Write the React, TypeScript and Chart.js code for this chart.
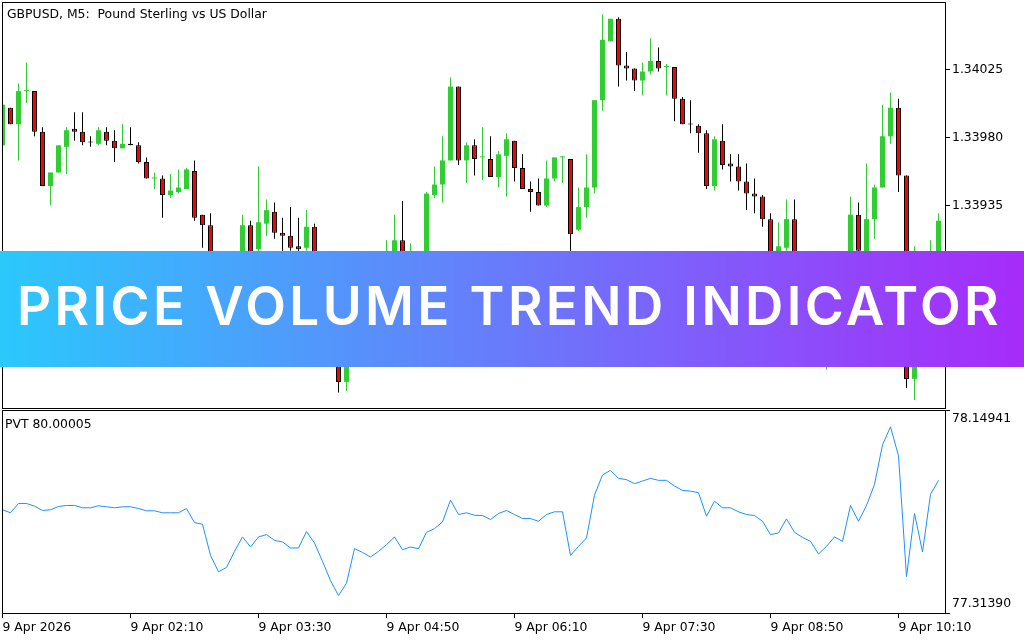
import React, { useEffect, useLayoutEffect, useRef, useState } from 'react';
import { Chart, registerables } from 'chart.js';

Chart.register(...registerables);

// ---------------- data ----------------
const symbolTitle = 'GBPUSD, M5:  Pound Sterling vs US Dollar';
const indicatorTitle = 'PVT 80.00005';
const bannerText = 'PRICE VOLUME TREND INDICATOR';

const timeTickIndex = [0, 16, 32, 48, 64, 80, 96, 112];
const timeTickLabels = ['9 Apr 2026', '9 Apr 02:10', '9 Apr 03:30', '9 Apr 04:50', '9 Apr 06:10', '9 Apr 07:30', '9 Apr 08:50', '9 Apr 10:10'];

const priceTicks = [1.33845, 1.3389, 1.33935, 1.3398, 1.34025];
const priceMin = 1.3380067;
const priceMax = 1.3407013;
const pvtMin = 77.3139;
const pvtMax = 78.14941;

const openP = [
  1.33975, 1.34, 1.33989, 1.34011, 1.34011, 1.33984, 1.33948, 1.33957, 1.33974, 1.33986,
  1.33984, 1.33977, 1.33976, 1.33984, 1.33978, 1.33973, 1.33976, 1.33975, 1.33964, 1.33953,
  1.33953, 1.33942, 1.33944, 1.33946, 1.33958, 1.33929, 1.33922, 1.33882, 1.3386, 1.33872,
  1.33892, 1.33922, 1.33906, 1.33923, 1.33931, 1.33917, 1.33915, 1.33908, 1.33907, 1.33921,
  1.33889, 1.33859, 1.33836, 1.33818, 1.33832, 1.33872, 1.33866, 1.33858, 1.33876, 1.33898,
  1.33912, 1.33896, 1.33902, 1.33898, 1.33942, 1.33949, 1.33965, 1.34014, 1.33965, 1.33975,
  1.33967, 1.33966, 1.33954, 1.33968, 1.33978, 1.3396, 1.33946, 1.33944, 1.33935, 1.33953,
  1.33967, 1.33966, 1.33919, 1.33934, 1.33947, 1.34005, 1.34044, 1.34059, 1.34028, 1.34026,
  1.34018, 1.34024, 1.34031, 1.34027, 1.34027, 1.34006, 1.33989, 1.33988, 1.33983, 1.33948,
  1.33978, 1.33963, 1.33961, 1.33951, 1.33943, 1.33941, 1.33926, 1.33898, 1.33907, 1.33926,
  1.33889, 1.33872, 1.33859, 1.33836, 1.33849, 1.33872, 1.33862, 1.33929, 1.33902, 1.33926,
  1.33947, 1.33981, 1.34, 1.33955, 1.3382, 1.33879, 1.33852, 1.33889,
];
const highP = [
  1.34005, 1.34, 1.34016, 1.3403, 1.34011, 1.33987, 1.33957, 1.33975, 1.33987, 1.33997,
  1.33997, 1.33981, 1.33987, 1.33987, 1.33985, 1.33989, 1.33987, 1.33977, 1.33967, 1.33957,
  1.33955, 1.33956, 1.33959, 1.3396, 1.33965, 1.33929, 1.3393, 1.33886, 1.33874, 1.33898,
  1.33929, 1.33925, 1.33961, 1.33939, 1.33937, 1.33927, 1.33934, 1.33927, 1.33932, 1.33923,
  1.33894, 1.33862, 1.33839, 1.33836, 1.33876, 1.33879, 1.33872, 1.33879, 1.33912, 1.33929,
  1.33938, 1.3391, 1.33904, 1.33944, 1.33961, 1.33981, 1.3402, 1.34014, 1.33977, 1.33979,
  1.33987, 1.33981, 1.33971, 1.33983, 1.33978, 1.33969, 1.33951, 1.33953, 1.33965, 1.33967,
  1.33968, 1.33966, 1.33947, 1.33969, 1.34005, 1.34062, 1.34059, 1.3406, 1.34037, 1.34026,
  1.3403, 1.34046, 1.3404, 1.34029, 1.34027, 1.34007, 1.34005, 1.33989, 1.33985, 1.33981,
  1.33989, 1.33969, 1.33969, 1.33963, 1.33953, 1.33942, 1.3393, 1.33924, 1.33939, 1.33939,
  1.33892, 1.33878, 1.33862, 1.33856, 1.33878, 1.33879, 1.33941, 1.33937, 1.33963, 1.33949,
  1.34002, 1.3401, 1.34006, 1.33955, 1.33908, 1.33889, 1.33912, 1.3393,
];
const lowP = [
  1.33972, 1.33989, 1.33965, 1.34003, 1.33981, 1.33948, 1.33935, 1.33957, 1.33956, 1.33978,
  1.33975, 1.33974, 1.33975, 1.33975, 1.33964, 1.33973, 1.33975, 1.33963, 1.33953, 1.33946,
  1.33927, 1.3394, 1.33943, 1.33946, 1.33925, 1.33907, 1.33878, 1.33852, 1.33855, 1.33869,
  1.33889, 1.33898, 1.33904, 1.33915, 1.33913, 1.33904, 1.33905, 1.33904, 1.33905, 1.33886,
  1.33856, 1.33831, 1.33811, 1.33812, 1.33829, 1.3386, 1.33852, 1.33854, 1.33872, 1.33894,
  1.33892, 1.33891, 1.33894, 1.33895, 1.3394, 1.33937, 1.33965, 1.33962, 1.3395, 1.33955,
  1.33952, 1.33954, 1.33947, 1.33941, 1.33951, 1.33946, 1.33931, 1.33935, 1.33934, 1.33951,
  1.3395, 1.33904, 1.33918, 1.33927, 1.33943, 1.33998, 1.34044, 1.34014, 1.34018, 1.34011,
  1.34008, 1.34022, 1.34024, 1.34008, 1.33991, 1.33989, 1.33983, 1.3397, 1.33946, 1.33945,
  1.33959, 1.33951, 1.33945, 1.33932, 1.3393, 1.33921, 1.33894, 1.33892, 1.33905, 1.33886,
  1.33867, 1.33852, 1.33831, 1.33826, 1.33846, 1.33858, 1.33859, 1.33902, 1.33899, 1.33913,
  1.33947, 1.33976, 1.33944, 1.33814, 1.33806, 1.33846, 1.33849, 1.33886,
];
const closeP = [
  1.34002, 1.33989, 1.34011, 1.34011, 1.33984, 1.33948, 1.33957, 1.33975, 1.33985, 1.33984,
  1.33977, 1.339769, 1.33985, 1.33978, 1.33973, 1.33976, 1.33975, 1.33964, 1.33953, 1.33953,
  1.33942, 1.33945, 1.33947, 1.33959, 1.33927, 1.33922, 1.33882, 1.33859, 1.33872, 1.33892,
  1.33922, 1.33902, 1.33924, 1.33932, 1.33917, 1.33915, 1.33907, 1.33906, 1.33921, 1.33889,
  1.33859, 1.33836, 1.33818, 1.33832, 1.33872, 1.33866, 1.33858, 1.33876, 1.339, 1.33912,
  1.33896, 1.33902, 1.33898, 1.33943, 1.33949, 1.33965, 1.34014, 1.33965, 1.33975, 1.33966,
  1.33967, 1.33954, 1.33969, 1.33979, 1.3396, 1.33946, 1.33944, 1.33935, 1.33953, 1.33967,
  1.33967, 1.33916, 1.33934, 1.33947, 1.34005, 1.34045, 1.34059, 1.34028, 1.34026, 1.34018,
  1.34024, 1.34031, 1.34026, 1.34027, 1.34006, 1.33989, 1.339889, 1.33983, 1.33948, 1.33979,
  1.33962, 1.33961, 1.33951, 1.33943, 1.33941, 1.33926, 1.33898, 1.33908, 1.33926, 1.33889,
  1.33872, 1.33859, 1.33836, 1.33849, 1.33872, 1.33862, 1.33929, 1.33905, 1.33926, 1.33947,
  1.33981, 1.34, 1.33955, 1.3382, 1.33879, 1.33852, 1.33889, 1.33925,
];
const pvt = [
  77.7387, 77.7263, 77.7647, 77.7647, 77.7536, 77.7358, 77.7387, 77.7523, 77.7565, 77.7565,
  77.7469, 77.7469, 77.7552, 77.7511, 77.7469, 77.7511, 77.7511, 77.744, 77.7345, 77.7345,
  77.7263, 77.7263, 77.7263, 77.744, 77.6861, 77.6791, 77.5509, 77.4835, 77.5013, 77.5674,
  77.627, 77.5856, 77.627, 77.6365, 77.6129, 77.6063, 77.5815, 77.5815, 77.6489, 77.6022,
  77.5261, 77.4475, 77.3855, 77.4367, 77.5786, 77.5633, 77.5443, 77.5674, 77.5951, 77.627,
  77.5745, 77.5856, 77.5786, 77.646, 77.6613, 77.689, 77.7784, 77.7192, 77.7263, 77.7163,
  77.7151, 77.6985, 77.7234, 77.7358, 77.7192, 77.7027, 77.7027, 77.6915, 77.7192, 77.7304,
  77.7304, 77.5509, 77.5881, 77.6229, 77.7991, 77.8818, 77.9012, 77.8681, 77.8627, 77.8462,
  77.857, 77.8681, 77.8599, 77.8599, 77.8363, 77.8185, 77.8156, 77.809, 77.7122, 77.7742,
  77.7469, 77.7469, 77.7304, 77.7192, 77.7151, 77.6915, 77.6365, 77.6435, 77.7014, 77.646,
  77.6253, 77.6088, 77.5567, 77.5881, 77.627, 77.6088, 77.7565, 77.6915, 77.7565, 77.8433,
  78.0059, 78.0803, 77.9604, 77.464, 77.7234, 77.565, 77.8019, 77.8599,
];

// ---------------- styling ----------------
const UP = '#32CD32';
const DOWN_FILL = '#FF0000';
const DOWN_LINE = '#000000';
const PVT_COLOR = '#1E90FF';
const FONT_FAMILY = '"DejaVu Sans", sans-serif';
const FONT_SIZE = 12.4;
const X_MIN = -0.0625;
const X_MAX = 117.8125;
const AXIS_W = 79;
const BANNER_SIZE = 53;
const BANNER_WEIGHT = 600;

const isUp = (i: number) => closeP[i] >= openP[i];

const framePlugin = (id: string, title: string, tx: number, ty: number) => ({
  id,
  afterDraw(chart: any) {
    const { ctx, chartArea: a } = chart;
    ctx.save();
    ctx.strokeStyle = '#000';
    ctx.lineWidth = 1;
    ctx.strokeRect(a.left + 0.5, a.top + 0.5, a.right - a.left, a.bottom - a.top);
    ctx.font = `${FONT_SIZE}px ${FONT_FAMILY}`;
    ctx.fillStyle = '#000';
    ctx.textAlign = 'left';
    ctx.textBaseline = 'alphabetic';
    ctx.fillText(title, tx, ty);
    ctx.restore();
  },
});

function Banner() {
  const [fit, setFit] = useState({ left: 20, spacing: 0, top: 28 });
  useLayoutEffect(() => {
    const c = document.createElement('canvas').getContext('2d');
    if (!c) return;
    c.font = `${BANNER_WEIGHT} ${BANNER_SIZE}px Inter`;
    const m = c.measureText(bannerText);
    const ink = m.actualBoundingBoxLeft + m.actualBoundingBoxRight;
    const spacing = (978 - ink) / (bannerText.length - 1);
    const asc = m.fontBoundingBoxAscent;
    const desc = m.fontBoundingBoxDescent;
    const baseline = (BANNER_SIZE - (asc + desc)) / 2 + asc;
    const capTopInLine = baseline - m.actualBoundingBoxAscent;
    setFit({ left: 20 + m.actualBoundingBoxLeft, spacing, top: 35.7 - capTopInLine });
  }, []);
  return (
    <div
      style={{
        position: 'absolute',
        left: 0,
        top: 251,
        width: 1024,
        height: 116,
        background: 'linear-gradient(90deg, #2BC8FC 0%, #A72BFA 100%)',
        overflow: 'hidden',
      }}
    >
      <span
        style={{
          position: 'absolute',
          left: fit.left,
          top: fit.top,
          fontFamily: 'Inter, sans-serif',
          fontWeight: BANNER_WEIGHT,
          fontSize: BANNER_SIZE,
          lineHeight: `${BANNER_SIZE}px`,
          letterSpacing: `${fit.spacing}px`,
          color: '#FFFFFF',
          whiteSpace: 'nowrap',
        }}
      >
        {bannerText}
      </span>
    </div>
  );
}

export default function App() {
  const topRef = useRef<HTMLCanvasElement>(null);
  const botRef = useRef<HTMLCanvasElement>(null);

  useEffect(() => {
    if (!topRef.current || !botRef.current) return;
    const font = { family: FONT_FAMILY, size: FONT_SIZE };

    const priceChart = new Chart(topRef.current, {
      type: 'bar',
      data: {
        datasets: [
          {
            label: 'body',
            data: openP.map((o, i) => ({ x: i, y: [o, closeP[i]] })) as any,
            backgroundColor: openP.map((_, i) => (isUp(i) ? UP : DOWN_FILL)),
            borderColor: openP.map((_, i) => (isUp(i) ? UP : DOWN_LINE)),
            borderWidth: openP.map((_, i) => (isUp(i) ? 0 : 1)),
            borderSkipped: false,
            barThickness: 5,
            grouped: false,
            inflateAmount: 0,
            minBarLength: 1,
          } as any,
          {
            label: 'wick',
            data: lowP.map((l, i) => ({ x: i, y: [l, highP[i]] })) as any,
            backgroundColor: lowP.map((_, i) => (isUp(i) ? UP : DOWN_LINE)),
            borderWidth: 0,
            barThickness: 1,
            grouped: false,
            inflateAmount: 0,
          } as any,
        ],
      },
      options: {
        responsive: false,
        animation: false,
        events: [],
        layout: { padding: { left: 2, top: 2, right: 0, bottom: 2 } },
        plugins: { legend: { display: false }, tooltip: { enabled: false } },
        scales: {
          x: { type: 'linear', display: false, min: X_MIN, max: X_MAX, offset: false },
          y: {
            position: 'right',
            min: priceMin,
            max: priceMax,
            afterBuildTicks: (s: any) => {
              s.ticks = priceTicks.map((v) => ({ value: v }));
            },
            afterFit: (s: any) => {
              s.width = AXIS_W;
              s.paddingTop = 0;
              s.paddingBottom = 0;
            },
            ticks: {
              callback: (v: any) => Number(v).toFixed(5),
              font,
              color: '#000',
              padding: 2,
            },
            grid: { display: true, drawOnChartArea: false, drawTicks: true, tickLength: 5, color: '#000', lineWidth: 1 },
            border: { display: false },
          },
        },
      } as any,
      plugins: [framePlugin('frameTop', symbolTitle, 7, 18)],
    });

    const pvtChart = new Chart(botRef.current, {
      type: 'line',
      data: {
        datasets: [
          {
            label: 'PVT',
            data: pvt.map((v, i) => ({ x: i, y: v })),
            borderColor: PVT_COLOR,
            borderWidth: 1,
            pointRadius: 0,
            tension: 0,
            fill: false,
          },
        ],
      },
      options: {
        responsive: false,
        animation: false,
        events: [],
        layout: { padding: { left: 2, top: 1, right: 0, bottom: 0 } },
        plugins: { legend: { display: false }, tooltip: { enabled: false } },
        scales: {
          x: {
            type: 'linear',
            position: 'bottom',
            min: X_MIN,
            max: X_MAX,
            offset: false,
            afterBuildTicks: (s: any) => {
              s.ticks = timeTickIndex.map((v) => ({ value: v }));
            },
            afterFit: (s: any) => {
              s.height = 27;
              s.paddingLeft = 0;
              s.paddingRight = 0;
            },
            ticks: {
              callback: (v: any) => {
                const idx = timeTickIndex.indexOf(Number(v));
                return idx >= 0 ? timeTickLabels[idx] : '';
              },
              align: 'start',
              maxRotation: 0,
              minRotation: 0,
              autoSkip: false,
              font,
              color: '#000',
              padding: 2,
            },
            grid: { display: true, drawOnChartArea: false, drawTicks: true, tickLength: 5, color: '#000', lineWidth: 1 },
            border: { display: false },
          },
          y: {
            position: 'right',
            min: pvtMin,
            max: pvtMax,
            afterBuildTicks: (s: any) => {
              s.ticks = [{ value: pvtMin }, { value: pvtMax }];
            },
            afterFit: (s: any) => {
              s.width = AXIS_W;
              s.paddingTop = 0;
              s.paddingBottom = 0;
            },
            ticks: {
              callback: (v: any) => {
                const t = Number(v).toFixed(5);
                return Number(v) >= pvtMax ? ['', t] : [t, ''];
              },
              font: { ...font, lineHeight: '18px' },
              color: '#000',
              padding: 2,
            },
            grid: { display: true, drawOnChartArea: false, drawTicks: true, tickLength: 5, color: '#000', lineWidth: 1 },
            border: { display: false },
          },
        },
      } as any,
      plugins: [framePlugin('frameBottom', indicatorTitle, 5, 19)],
    });

    return () => {
      priceChart.destroy();
      pvtChart.destroy();
    };
  }, []);

  return (
    <div style={{ position: 'absolute', left: 0, top: 0, width: 1024, height: 640, background: '#fff', overflow: 'hidden' }}>
      <canvas ref={topRef} width={1024} height={410} style={{ position: 'absolute', left: 0, top: 0 }} />
      <canvas ref={botRef} width={1024} height={231} style={{ position: 'absolute', left: 0, top: 409 }} />
      <Banner />
    </div>
  );
}
